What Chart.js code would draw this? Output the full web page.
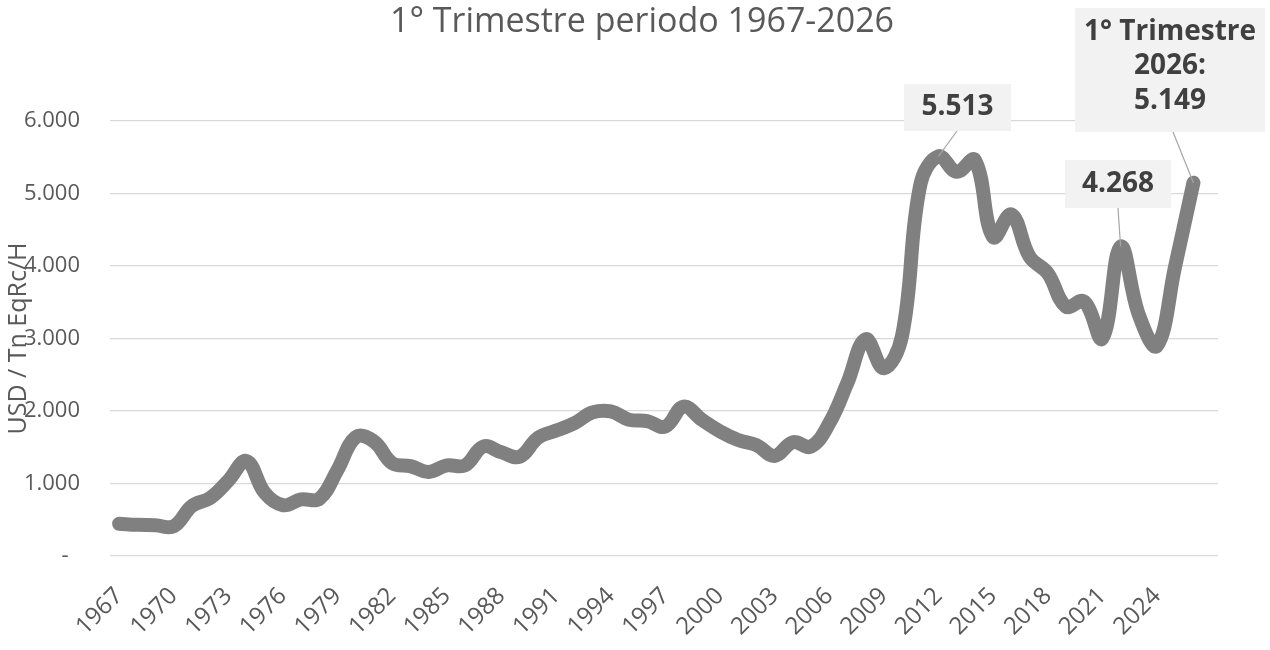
<!DOCTYPE html>
<html><head><meta charset="utf-8">
<script src="https://cdn.jsdelivr.net/npm/chart.js@4.4.1/dist/chart.umd.min.js"></script>
<style>html,body{margin:0;padding:0;background:#fff;}canvas{display:block;}</style>
</head><body>
<canvas id="c" width="1270" height="650"></canvas>
<script>
const chartTitle = '1° Trimestre periodo 1967-2026';
const yAxisTitle = 'USD / Tn EqRc/H';
const years = [1967,1968,1969,1970,1971,1972,1973,1974,1975,1976,1977,1978,1979,1980,1981,1982,1983,1984,1985,1986,1987,1988,1989,1990,1991,1992,1993,1994,1995,1996,1997,1998,1999,2000,2001,2002,2003,2004,2005,2006,2007,2008,2009,2010,2011,2012,2013,2014,2015,2016,2017,2018,2019,2020,2021,2022,2023,2024,2025,2026];
const values = [445,430,425,410,690,800,1040,1310,870,700,780,790,1190,1640,1580,1280,1240,1160,1250,1250,1510,1430,1370,1630,1730,1830,1980,1995,1880,1860,1785,2060,1880,1720,1600,1530,1380,1570,1510,1830,2390,2990,2590,3040,5120,5513,5300,5460,4400,4710,4130,3900,3440,3510,3000,4268,3330,2900,4000,5149];
const tickYears = [1967,1970,1973,1976,1979,1982,1985,1988,1991,1994,1997,2000,2003,2006,2009,2012,2015,2018,2021,2024];
const yTicks = [0,1000,2000,3000,4000,5000,6000];
const calloutYears = [2012,2022,2026];
const calloutLabels = [['5.513'],['4.268'],['1° Trimestre','2026:','5.149']];

const FONT = '"Open Sans", "Liberation Sans", sans-serif';
const GREY_TXT = '#595959';

function fmt(v){ return v === 0 ? '-  ' : String(v).replace(/\B(?=(\d{3})+(?!\d))/g, '.'); }

// box layout for callouts (screen layout only)
const calloutBoxes = [
  {cx: 957.5, top: 84, w: 107, h: 47, ax: 957, ty: 107},
  {cx: 1118, top: 160, w: 106, h: 48, ax: 1118, ty: 184},
  {cx: 1170, top: 8, w: 190, h: 124, ax: 1173, ty: 32}
];

const extras = {
  id: 'extras',
  afterDraw(chart) {
    const ctx = chart.ctx, a = chart.chartArea, xs = chart.scales.x, ys = chart.scales.y;
    ctx.save();
    ctx.translate(19, (a.top + a.bottom) / 2);
    ctx.rotate(-Math.PI / 2);
    ctx.font = '25px ' + FONT;
    ctx.fillStyle = GREY_TXT;
    ctx.textAlign = 'center';
    ctx.textBaseline = 'middle';
    ctx.fillText(yAxisTitle, 0, 0);
    ctx.restore();

    calloutYears.forEach((yr, i) => {
      const idx = years.indexOf(yr);
      const px = xs.getPixelForValue(yr), py = ys.getPixelForValue(values[idx]);
      const b = calloutBoxes[i];
      ctx.save();
      ctx.strokeStyle = '#a6a6a6';
      ctx.lineWidth = 1.2;
      ctx.beginPath();
      ctx.moveTo(b.ax, b.top + b.h);
      ctx.lineTo(px, py);
      ctx.stroke();
      ctx.fillStyle = '#f2f2f2';
      ctx.fillRect(b.cx - b.w / 2, b.top, b.w, b.h);
      ctx.fillStyle = '#404040';
      ctx.font = 'bold 28px ' + FONT;
      ctx.textAlign = 'center';
      ctx.textBaseline = 'middle';
      calloutLabels[i].forEach((t, k) => ctx.fillText(t, b.cx, b.ty + k * 34.5));
      ctx.restore();
    });
  }
};

new Chart(document.getElementById('c'), {
  type: 'line',
  data: {
    datasets: [{
      data: years.map((y, i) => ({x: y, y: values[i]})),
      borderColor: '#808080',
      borderWidth: 14,
      borderCapStyle: 'round',
      borderJoinStyle: 'round',
      pointRadius: 0,
      tension: 0.4,
      fill: false
    }]
  },
  options: {
    responsive: false,
    animation: false,
    layout: {padding: {left: 14, right: 0, top: 0, bottom: 0}},
    plugins: {
      legend: {display: false},
      tooltip: {enabled: false},
      title: {
        display: true, text: chartTitle, color: GREY_TXT,
        font: {family: FONT, size: 34, weight: 'normal'},
        padding: {top: 2, bottom: 78.2}
      }
    },
    scales: {
      x: {
        type: 'linear', min: 1966.5, max: 2027.35,
        grid: {display: false}, border: {display: false},
        afterBuildTicks: s => { s.ticks = tickYears.map(v => ({value: v})); },
        afterFit: s => { s.height = 94; s.paddingLeft = 0; s.paddingRight = 0; },
        ticks: {
          autoSkip: false, minRotation: 45, maxRotation: 45, padding: 18,
          color: GREY_TXT, font: {family: FONT, size: 24},
          callback: v => String(v)
        }
      },
      y: {
        min: 0, max: 6000,
        afterBuildTicks: s => { s.ticks = yTicks.map(v => ({value: v})); },
        afterFit: s => { s.width = 96; s.paddingTop = 0; s.paddingBottom = 0; },
        grid: {color: '#d9d9d9', lineWidth: 1.3, drawTicks: false},
        border: {display: false},
        ticks: {
          padding: 30, color: GREY_TXT, font: {family: FONT, size: 22},
          callback: v => fmt(v)
        }
      },
      yR: {
        type: 'linear', position: 'right', display: true,
        grid: {display: false}, border: {display: false},
        ticks: {display: false},
        afterFit: s => { s.width = 52; s.paddingTop = 0; s.paddingBottom = 0; }
      }
    }
  },
  plugins: [extras]
});
</script>
</body></html>
